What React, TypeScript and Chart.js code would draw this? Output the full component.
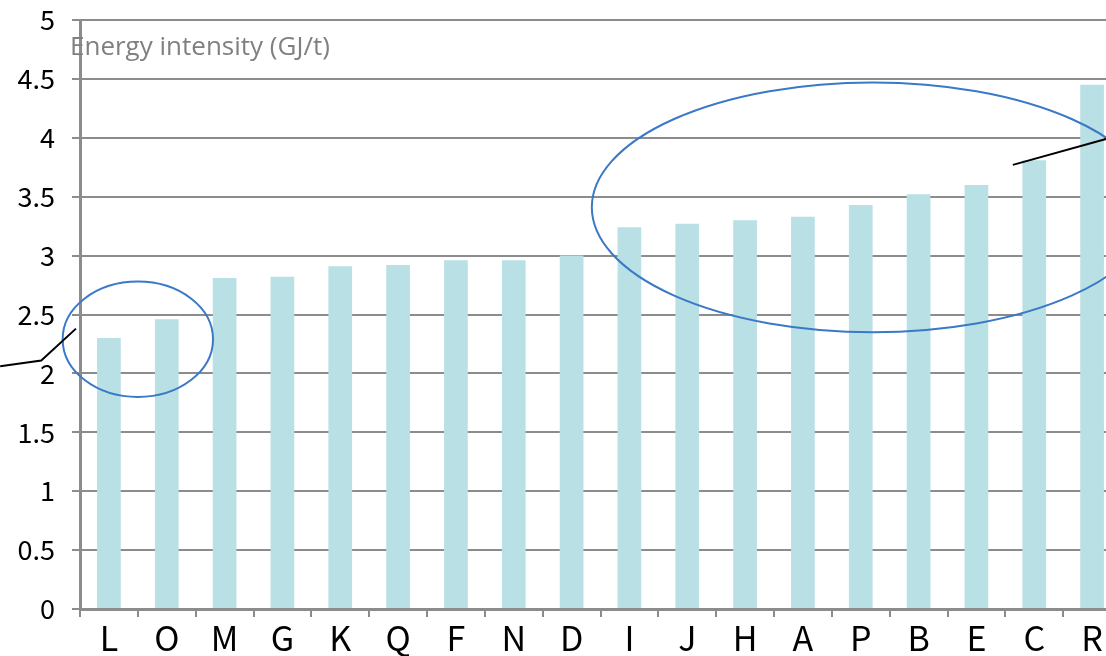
import React, { useEffect, useRef } from "react";
import { Chart, registerables } from "chart.js";

Chart.register(...registerables);

// ---- data ----
const categories = ["L", "O", "M", "G", "K", "Q", "F", "N", "D", "I", "J", "H", "A", "P", "B", "E", "C", "R"];
const intensity = [2.3, 2.46, 2.81, 2.82, 2.91, 2.92, 2.96, 2.96, 3.0, 3.24, 3.27, 3.3, 3.33, 3.43, 3.52, 3.6, 3.81, 4.45];
const yMin = 0;
const yMax = 5;
const yStep = 0.5;
const axisTitle = "Energy intensity (GJ/t)";

// annotation ellipses: [centerIndex, centerValue, radiusInCategories, radiusInValue]
const lowEllipse = [0.5, 2.29, 1.3, 0.49];
const highEllipse = [13.21, 3.41, 4.86, 1.06];
// callout polylines: [index, value] pairs
const lowCallout = [[-1.88, 2.06], [-1.17, 2.11], [-0.57, 2.38]];
const highCallout = [[15.63, 3.77], [17.24, 3.99]];

const tickFamily = "'Noto Sans CJK JP', 'Noto Sans', sans-serif";

const annotationPlugin = {
  id: "annotations",
  afterDatasetsDraw(chart: any) {
    const { ctx, scales } = chart;
    const x = scales.x;
    const y = scales.y;
    const unitX = x.getPixelForValue(1) - x.getPixelForValue(0);
    const unitY = y.getPixelForValue(0) - y.getPixelForValue(1);
    ctx.save();
    ctx.strokeStyle = "#3a78c8";
    ctx.lineWidth = 2;
    for (const e of [lowEllipse, highEllipse]) {
      ctx.beginPath();
      ctx.ellipse(x.getPixelForValue(e[0]), y.getPixelForValue(e[1]), e[2] * unitX, e[3] * unitY, 0, 0, Math.PI * 2);
      ctx.stroke();
    }
    ctx.strokeStyle = "#000000";
    ctx.lineWidth = 2;
    for (const line of [lowCallout, highCallout]) {
      ctx.beginPath();
      line.forEach((p, i) => {
        const px = x.getPixelForValue(p[0]);
        const py = y.getPixelForValue(p[1]);
        if (i === 0) ctx.moveTo(px, py);
        else ctx.lineTo(px, py);
      });
      ctx.stroke();
    }
    ctx.restore();
  },
  afterDraw(chart: any) {
    const { ctx, chartArea } = chart;
    ctx.save();
    ctx.fillStyle = "#808080";
    ctx.font = "26px 'Open Sans', 'Noto Sans', sans-serif";
    ctx.textAlign = "left";
    ctx.textBaseline = "alphabetic";
    ctx.fillText(axisTitle, chartArea.left - 10, chartArea.top + 35);
    ctx.restore();
  },
};

export default function App() {
  const ref = useRef<HTMLCanvasElement | null>(null);
  useEffect(() => {
    if (!ref.current) return;
    const chart = new Chart(ref.current, {
      type: "bar",
      data: {
        labels: categories,
        datasets: [
          {
            data: intensity,
            backgroundColor: "#b9e0e4",
            borderWidth: 0,
            barPercentage: 0.41,
            categoryPercentage: 1,
          },
        ],
      },
      options: {
        animation: false,
        responsive: false,
        layout: { padding: { top: 20, right: 0, bottom: 0, left: 0 } },
        plugins: { legend: { display: false }, tooltip: { enabled: false }, title: { display: false } },
        scales: {
          x: {
            offset: true,
            grid: { offset: true, drawOnChartArea: false, drawTicks: true, tickLength: 8, color: "#8c8c8c", lineWidth: 2 },
            border: { display: true, color: "#8c8c8c", width: 3 },
            ticks: {
              color: "#000",
              padding: 1,
              font: { family: tickFamily, size: 34 },
              maxRotation: 0,
              autoSkip: false,
            },
            afterFit: (s: any) => {
              s.height = 47;
              s.paddingLeft = 0;
              s.paddingRight = 0;
            },
          },
          y: {
            min: yMin,
            max: yMax,
            grid: { color: "#8c8c8c", lineWidth: 2, tickLength: 8, drawTicks: true },
            border: { display: true, color: "#8c8c8c", width: 3 },
            ticks: {
              stepSize: yStep,
              color: "#000",
              padding: 17,
              font: { family: tickFamily, size: 27 },
              callback: (v: any) => String(v),
            },
            afterFit: (s: any) => {
              s.width = 80;
              s.paddingTop = 0;
              s.paddingBottom = 0;
            },
          },
        },
      },
      plugins: [annotationPlugin],
    });
    return () => chart.destroy();
  }, []);
  return (
    <div style={{ position: "fixed", left: 0, top: 0, width: 1106, height: 656, overflow: "hidden", background: "#fff" }}>
      <canvas ref={ref} width={1121} height={656} style={{ width: 1121, height: 656, display: "block" }} />
    </div>
  );
}
